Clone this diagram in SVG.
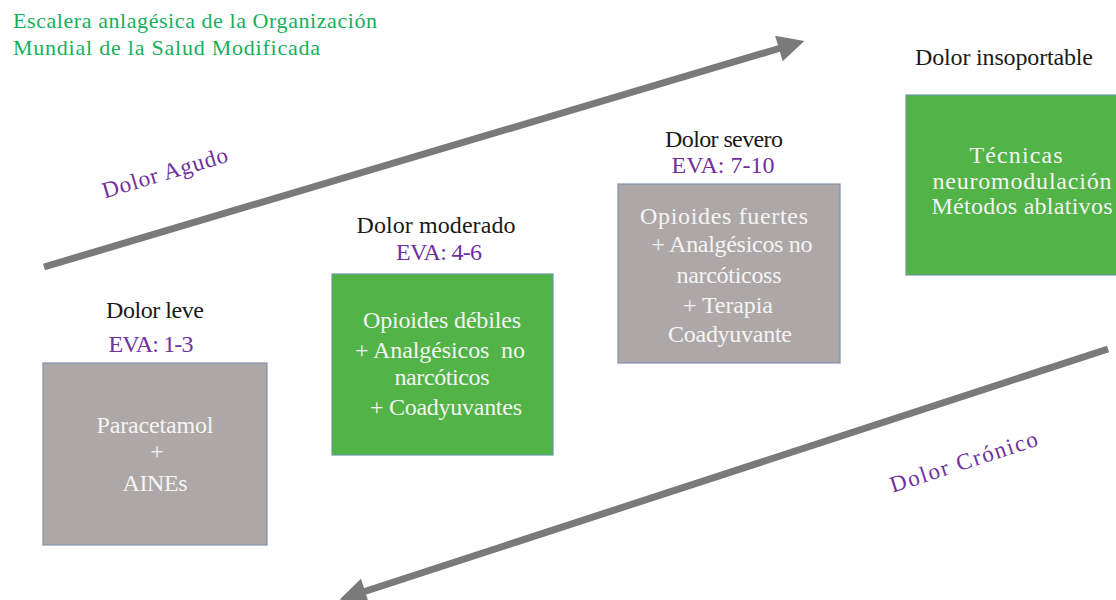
<svg xmlns="http://www.w3.org/2000/svg" width="1116" height="600" viewBox="0 0 1116 600">
<style>
  text { font-family: "Liberation Serif", "DejaVu Serif", serif; font-size: 24px; }
  .title { fill: #14b05c; font-size: 22px; }
  .head { fill: #1a1a1a; text-anchor: middle; }
  .eva { fill: #7030a0; text-anchor: middle; }
  .lbl { fill: #7030a0; text-anchor: middle; font-size: 23px; }
  .body { fill: #f4f4f4; text-anchor: middle; }
  .gray { fill: #ada8a7; stroke: #8192ad; stroke-width: 1.2; }
  .green { fill: #52b347; stroke: #6b9aa6; stroke-width: 1.2; }
  .arrow { stroke: #7a7a7a; stroke-width: 7; fill: none; marker-end: url(#ah); }
</style>
<defs>
  <marker id="ah" viewBox="0 0 10 10" refX="2" refY="5" markerWidth="4.2" markerHeight="3.8" orient="auto" markerUnits="strokeWidth">
    <path d="M0,0 L10,5 L0,10 Z" fill="#7a7a7a"/>
  </marker>
</defs>
<rect width="1116" height="600" fill="#ffffff"/>

<g id="title">
  <text class="title" x="13" y="28" textLength="364">Escalera anlagésica de la Organización</text>
  <text class="title" x="13" y="55" textLength="307">Mundial de la Salud Modificada</text>
</g>

<g id="connectors">
  <line class="arrow" x1="44" y1="267" x2="784" y2="47"/>
  <line class="arrow" x1="1108" y1="349" x2="360" y2="593"/>
  <text class="lbl" transform="translate(167,180) rotate(-16.5)" textLength="130">Dolor Agudo</text>
  <text class="lbl" transform="translate(966,469) rotate(-18)" textLength="154">Dolor Crónico</text>
</g>

<g id="leve">
  <text class="head" x="155" y="318" textLength="98">Dolor leve</text>
  <text class="eva" x="151" y="352" textLength="85">EVA: 1-3</text>
  <rect class="gray" x="43" y="363" width="224" height="182"/>
  <text class="body" x="155" y="433" textLength="117">Paracetamol</text>
  <text class="body" x="157" y="459">+</text>
  <text class="body" x="155" y="491" textLength="65">AINEs</text>
</g>

<g id="moderado">
  <text class="head" x="436" y="233" textLength="159">Dolor moderado</text>
  <text class="eva" x="439" y="260" textLength="86">EVA: 4-6</text>
  <rect class="green" x="332" y="274" width="221" height="181"/>
  <text class="body" x="442" y="328" textLength="158">Opioides débiles</text>
  <text class="body" x="440" y="358" textLength="170" xml:space="preserve">+ Analgésicos  no</text>
  <text class="body" x="442" y="385" textLength="95">narcóticos</text>
  <text class="body" x="446" y="415" textLength="152">+ Coadyuvantes</text>
</g>

<g id="severo">
  <text class="head" x="724" y="147" textLength="118">Dolor severo</text>
  <text class="eva" x="723" y="173" textLength="103">EVA: 7-10</text>
  <rect class="gray" x="618" y="184" width="222" height="179"/>
  <text class="body" x="724" y="224" textLength="168">Opioides fuertes</text>
  <text class="body" x="732" y="252" textLength="161">+ Analgésicos no</text>
  <text class="body" x="729" y="283" textLength="105">narcóticoss</text>
  <text class="body" x="728" y="313" textLength="90">+ Terapia</text>
  <text class="body" x="730" y="342" textLength="124">Coadyuvante</text>
</g>

<g id="insoportable">
  <text class="head" x="1004" y="65" textLength="178">Dolor insoportable</text>
  <rect class="green" x="906" y="95" width="212" height="180"/>
  <text class="body" x="1016" y="163" textLength="93">Técnicas</text>
  <text class="body" x="1022" y="189" textLength="179">neuromodulación</text>
  <text class="body" x="1022" y="214" textLength="181">Métodos ablativos</text>
</g>
</svg>
